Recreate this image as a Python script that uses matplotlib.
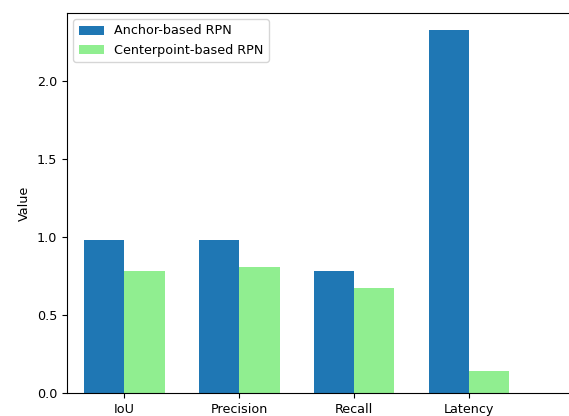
import matplotlib
matplotlib.use("Agg")
import matplotlib.pyplot as plt
import numpy as np

categories = ["IoU", "Precision", "Recall", "Latency"]
anchor_vals = [0.98, 0.98, 0.78, 2.33]
center_vals = [0.78, 0.81, 0.67, 0.14]
series_labels = ["Anchor-based RPN", "Centerpoint-based RPN"]

plt.rcParams["font.size"] = 9.2

W, H = 569, 416
fig = plt.figure(figsize=(W / 100, H / 100), dpi=100)
left_px, right_px, top_px, bottom_px = 67, 620, 13, 393
ax = fig.add_axes([left_px / W, (H - bottom_px) / H,
                   (right_px - left_px) / W, (bottom_px - top_px) / H])

x = np.arange(len(categories))
w = 0.35
ax.bar(x - w / 2, anchor_vals, w, color="#1f77b4", label=series_labels[0])
ax.bar(x + w / 2, center_vals, w, color="lightgreen", label=series_labels[1])

ax.set_xticks(x)
ax.set_xticklabels(categories)
ax.set_ylabel("Value")
ax.set_xlim(-0.5, (right_px - 124) / 115)
ax.set_ylim(0, 2.436)
ax.set_yticks([0.0, 0.5, 1.0, 1.5, 2.0])
ax.spines["right"].set_visible(False)
ax.legend(loc="upper left")

fig.savefig("out.png", dpi=100)
